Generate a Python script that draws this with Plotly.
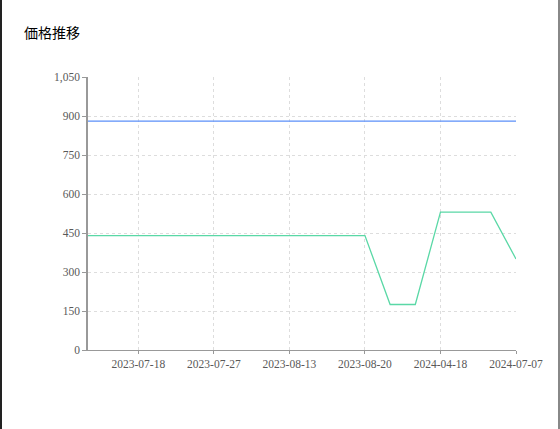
import plotly.graph_objects as go

dates = [
    "2023-07-12", "2023-07-15", "2023-07-18", "2023-07-21", "2023-07-24",
    "2023-07-27", "2023-08-02", "2023-08-08", "2023-08-13", "2023-08-15",
    "2023-08-18", "2023-08-20", "2023-09-10", "2023-12-01", "2024-04-18",
    "2024-05-20", "2024-06-15", "2024-07-07",
]
prices = [440, 440, 440, 440, 440, 440, 440, 440, 440, 440, 440, 440,
          175, 175, 530, 530, 530, 350]
reference = [880, 880, 880, 880, 880, 880, 880, 880, 880, 880, 880, 880,
             880, 880, 880, 880, 880, 880]
tick_labels = ["2023-07-18", "2023-07-27", "2023-08-13", "2023-08-20",
               "2024-04-18", "2024-07-07"]
y_ticks = [0, 150, 300, 450, 600, 750, 900, 1050]

TICK_FONT = dict(family="Liberation Serif, DejaVu Serif, serif", size=11.5, color="#595959")

fig = go.Figure()
fig.add_trace(go.Scatter(x=dates, y=reference, mode="lines",
                         line=dict(color="#5B8FF9", width=1.3), showlegend=False))
fig.add_trace(go.Scatter(x=dates, y=prices, mode="lines",
                         line=dict(color="#5AD8A6", width=1.3), showlegend=False))

fig.update_layout(
    width=560,
    height=429,
    margin=dict(l=88, r=44, t=77, b=79),
    paper_bgcolor="white",
    plot_bgcolor="white",
    title=dict(
        text="価格推移",
        font=dict(family="Noto Sans CJK JP", size=14, color="#000000"),
        x=24 / 560, xanchor="left", xref="container",
        y=1 - 33 / 429, yanchor="middle", yref="container",
    ),
    xaxis=dict(
        type="category",
        range=[0, len(dates) - 1],
        tickmode="array",
        tickvals=tick_labels,
        ticktext=tick_labels,
        ticks="outside", ticklen=3, tickcolor="#999999",
        showline=True, linecolor="#999999", linewidth=1,
        showgrid=True, gridcolor="#dddddd", griddash="dot", gridwidth=1,
        tickfont=TICK_FONT,
        zeroline=False,
    ),
    yaxis=dict(
        range=[0, 1050],
        tickmode="array",
        tickvals=y_ticks,
        tickformat=",",
        ticks="outside", ticklen=4, tickcolor="#999999",
        showline=True, linecolor="#999999", linewidth=1.5,
        showgrid=True, gridcolor="#dddddd", griddash="dot", gridwidth=1,
        tickfont=TICK_FONT,
        zeroline=False,
    ),
    shapes=[
        dict(type="line", xref="paper", yref="paper",
             x0=-87 / 428, x1=-87 / 428, y0=-79 / 273, y1=(273 + 77) / 273,
             line=dict(color="#222222", width=2)),
        dict(type="line", xref="paper", yref="paper",
             x0=(428 + 43) / 428, x1=(428 + 43) / 428, y0=-79 / 273, y1=(273 + 77) / 273,
             line=dict(color="#888888", width=2)),
    ],
)

fig.write_html("out.html", config={"displayModeBar": False},
               post_script="document.body.style.margin='0';")
